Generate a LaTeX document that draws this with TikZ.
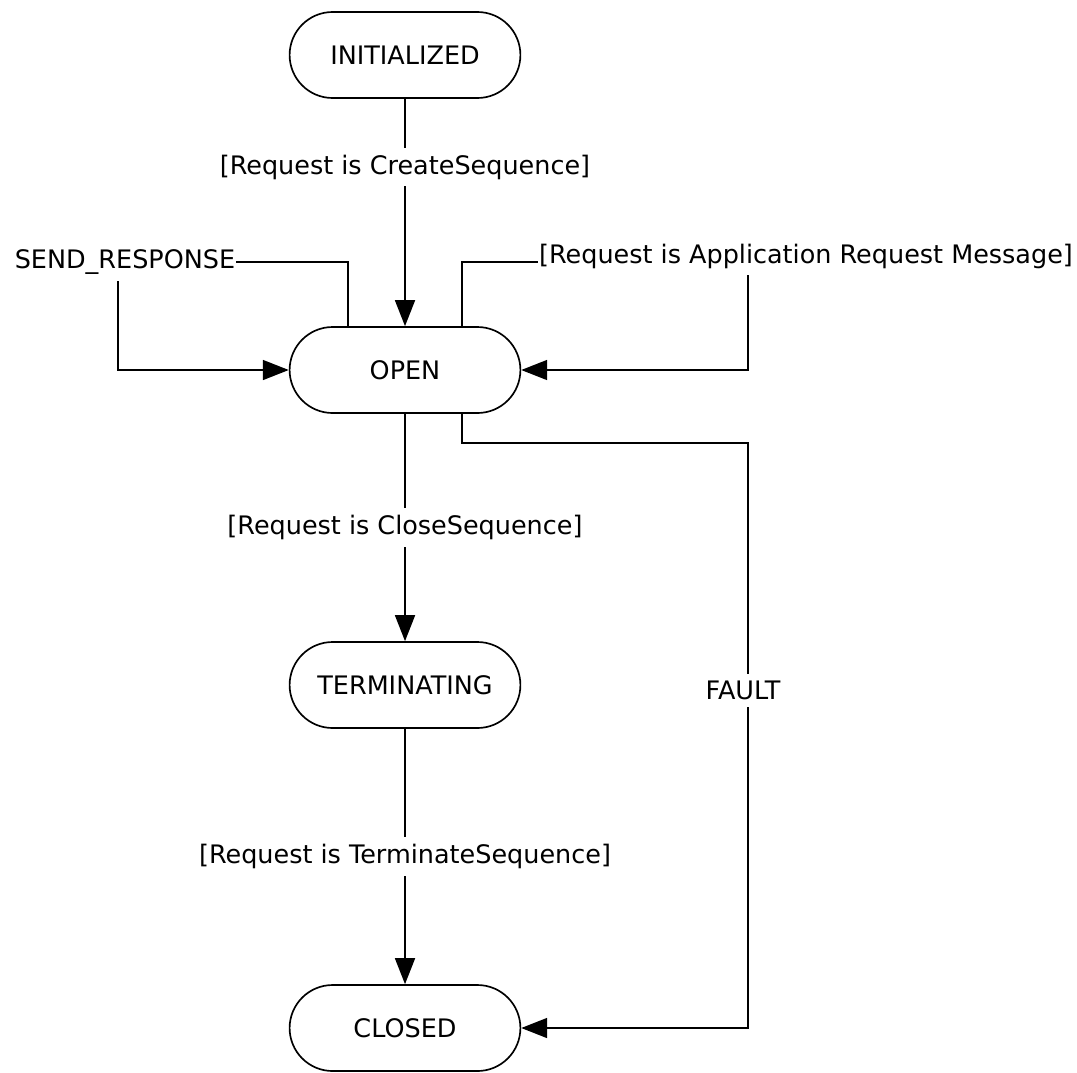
\documentclass[tikz,border=0pt]{standalone}
\usepackage{fontspec}
\setmainfont{DejaVu Sans}
\usetikzlibrary{shapes.misc,arrows.meta}
\tikzset{
    ST/.style ={rounded rectangle,minimum width = 4.85cm, minimum height = 1.72cm, draw},
    LB/.style ={fill=white, inner xsep=0.5pt, inner ysep=4pt},
    >={Triangle[length=0.52cm,width=0.4cm]}}
\begin{document}
\begin{tikzpicture}[every node/.style={font=\fontsize{14.5}{17}\selectfont}, line width=0.95pt]
        \useasboundingbox (0,0) rectangle (21.54,-21.44);
        \node[ST](1) at (8.1,-1.1) {INITIALIZED};
        \node[ST](2) at (8.1,-7.4) {OPEN};
        \node[ST](3) at (8.1,-13.7) {TERMINATING};
        \node[ST](4) at (8.1,-20.56) {CLOSED};
        \coordinate(c1) at (2.36,-5.24);
        \coordinate(c2) at (14.96,-5.24);
        \coordinate(c3) at (14.96,-8.86);
        \draw[->] (1) -- node[LB,pos=0.3]{[Request is CreateSequence]} (2);
        \draw[->] (2) -- node[LB]{[Request is CloseSequence]} (3);
        \draw[->] (3) -- node[LB]{[Request is TerminateSequence]} (4);
        \draw[->] ([xshift=-1.14cm]2.north) |- (c1) |- (2.west);
        \draw[->] ([xshift=1.14cm]2.north) |- (c2) |- (2.east);
        \draw[->] ([xshift=1.14cm]2.south) |- (c3) |- (4.east);
        \node[LB](5) at (2.5,-5.24) {SEND\_RESPONSE};
        \node[LB](6) at (16.12,-5.12) {[Request is Application Request Message]};
        \node[LB](7) at (14.86,-13.8) {FAULT};
    \end{tikzpicture}
\end{document}
